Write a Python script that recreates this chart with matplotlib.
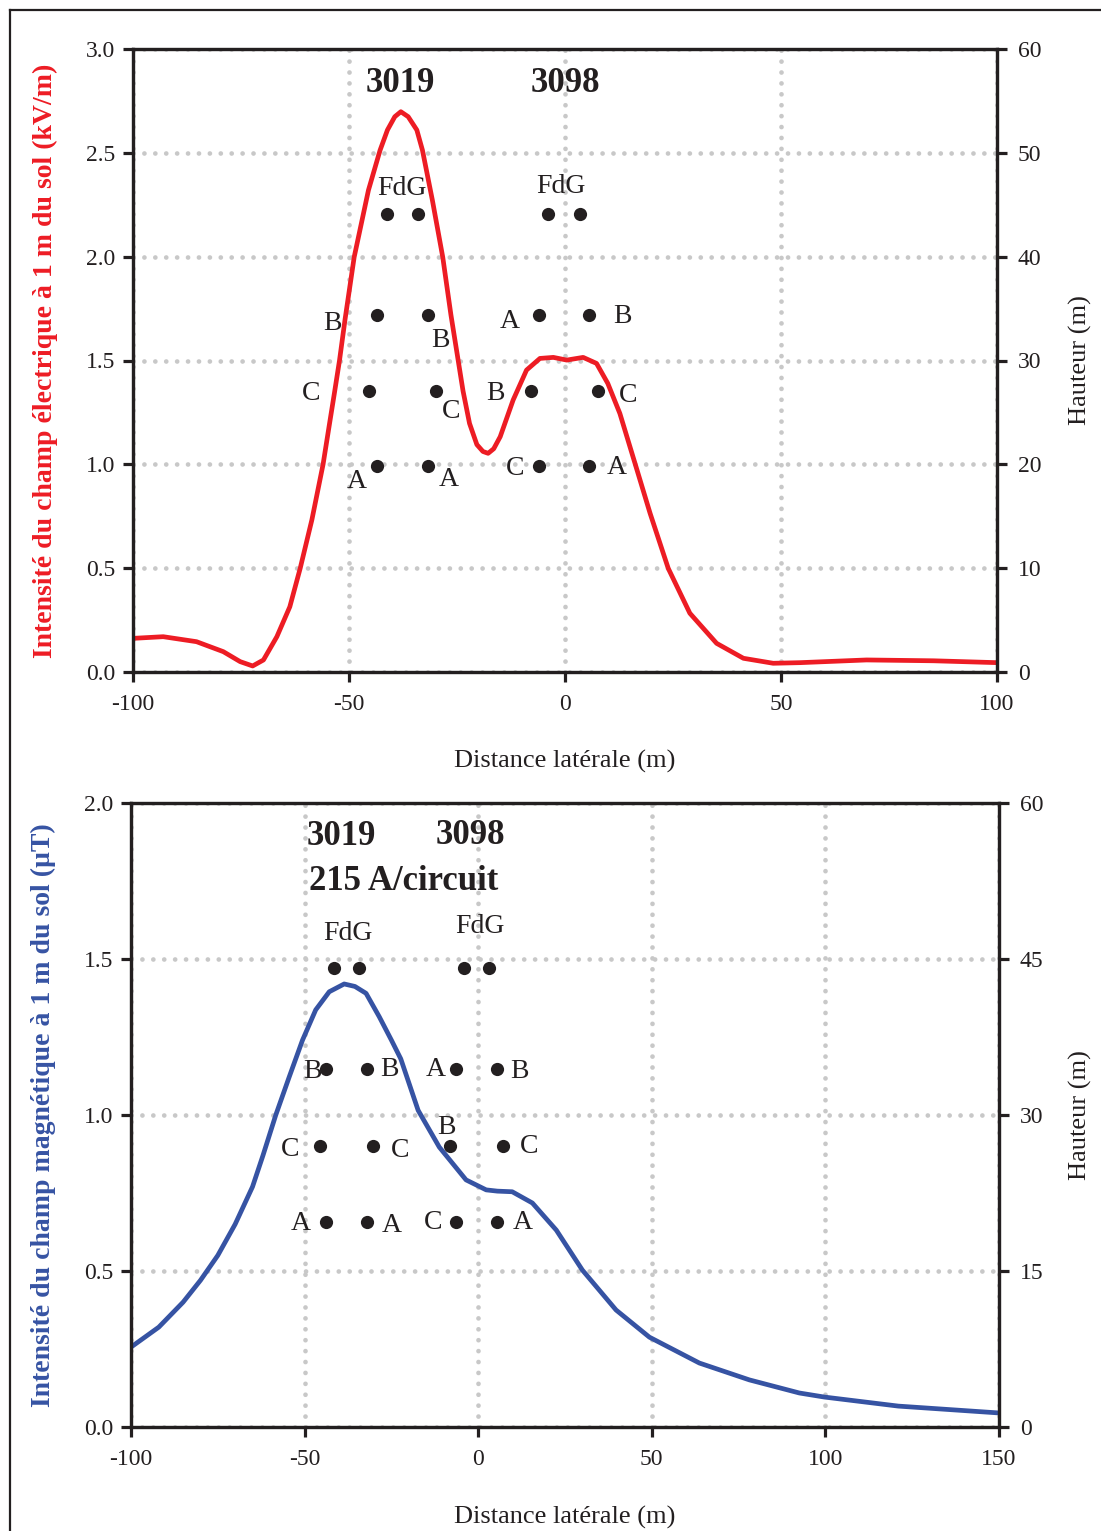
import matplotlib
matplotlib.use("Agg")
import matplotlib.pyplot as plt
from matplotlib.lines import Line2D
from matplotlib.ticker import FormatStrFormatter

plt.rcParams['font.family'] = ['Liberation Serif', 'DejaVu Serif']
plt.rcParams['axes.unicode_minus'] = False

# ---------------- data: electric field ----------------
e_x = [-100, -93, -85.3, -79.1, -75.2, -72.3, -69.8, -66.7, -63.7, -61.3, -58.6, -56.0,
       -54.4, -53.4, -52.2, -50.9, -48.8, -45.5, -42.8, -41.1, -39.4, -38.0, -36.3, -34.3,
       -33.0, -30.7, -28.3, -26.4, -24.7, -23.6, -22.1, -20.4, -19.0, -17.8, -16.5, -15.0,
       -12.0, -8.9, -5.8, -2.7, 0.4, 4.2, 7.3, 9.9, 12.7, 16.2, 19.7, 23.9, 28.9, 35.1,
       41.3, 48.2, 54.4, 69.8, 85.3, 100]
e_y = [0.162, 0.170, 0.146, 0.098, 0.050, 0.029, 0.058, 0.170, 0.314, 0.499, 0.732, 1.0,
       1.21, 1.34, 1.50, 1.70, 1.998, 2.32, 2.513, 2.61, 2.674, 2.698, 2.674, 2.61,
       2.513, 2.272, 1.998, 1.719, 1.497, 1.353, 1.197, 1.095, 1.062, 1.053, 1.075, 1.133,
       1.310, 1.454, 1.510, 1.515, 1.502, 1.515, 1.486, 1.39, 1.245, 1.005, 0.764, 0.499,
       0.283, 0.138, 0.066, 0.042, 0.045, 0.058, 0.054, 0.045]

# conductor positions (height, m) - electric chart
e_fdg_x = [-41.3, -34.1, -3.9, 3.5]
e_fdg_h = 44.1
e_rowB_x = [-43.6, -31.8, -6.0, 5.6]
e_rowB_h = 34.4
e_rowC_x = [-45.4, -29.9, -7.9, 7.6]
e_rowC_h = 27.1
e_rowA_x = [-43.6, -31.8, -6.0, 5.6]
e_rowA_h = 19.8

e_lbl_text = ["FdG", "FdG", "B", "B", "A", "B", "C", "C", "B", "C", "A", "A", "C", "A"]
e_lbl_x = [-37.7, -0.9, -53.9, -28.9, -12.7, 13.4, -58.8, -26.4, -16.0, 14.6, -48.1, -26.9, -11.6, 12.0]
e_lbl_h = [46.6, 46.8, 33.6, 31.9, 33.8, 34.2, 26.8, 25.1, 26.8, 26.6, 18.3, 18.5, 19.6, 19.7]
e_title_text = ["3019", "3098"]
e_title_x = [-38.2, 0.2]
e_title_h = [56.7, 56.7]

# ---------------- data: magnetic field ----------------
b_x = [-100, -92, -85, -80, -75, -70, -65, -62, -58.3, -54.4, -50.6,
       -46.8, -42.9, -38.6, -35.5, -32.3, -28.5, -25.0, -22.3, -17.3, -11.2, -3.5, 2.3,
       5.5, 9.8, 15.6, 22.5, 30.0, 39.7, 49.3, 63.7, 78.1, 92.5, 99.7, 121, 150]
b_y = [0.256, 0.32, 0.40, 0.47, 0.55, 0.65, 0.77, 0.87, 1.0, 1.123, 1.240,
       1.337, 1.395, 1.420, 1.412, 1.390, 1.315, 1.24, 1.18, 1.015, 0.897, 0.792, 0.760,
       0.756, 0.754, 0.718, 0.631, 0.503, 0.375, 0.288, 0.205, 0.151, 0.109, 0.096, 0.067,
       0.045]

b_fdg_x = [-41.5, -34.3, -4.0, 3.2]
b_fdg_h = 44.1
b_rowB_x = [-43.8, -32.0, -6.3, 5.5]
b_rowB_h = 34.4
b_rowC_x = [-45.5, -30.2, -8.1, 7.2]
b_rowC_h = 27.0
b_rowA_x = [-43.8, -32.0, -6.3, 5.5]
b_rowA_h = 19.7

b_lbl_text = ["FdG", "FdG", "B", "B", "A", "B", "B", "C", "C", "C", "A", "A", "C", "A"]
b_lbl_x = [-37.4, 0.6, -47.8, -25.6, -12.1, 11.8, -9.2, -54.1, -22.5, 14.7, -51.0, -24.8, -13.0, 12.7]
b_lbl_h = [47.5, 48.1, 34.2, 34.4, 34.4, 34.2, 28.8, 26.7, 26.6, 27.0, 19.6, 19.4, 19.7, 19.7]
b_title_text = ["3019", "3098", "215 A/circuit"]
b_title_x = [-49.4, -12.4, -48.8]
b_title_h = [56.8, 56.9, 52.5]

# ---------------- styles ----------------
RED = '#ED1C24'
BLUE = '#3653A3'
INK = '#231F20'
GRID = '#C8C8C8'
TICK_FS = 17
LAB_FS = 19

fig = plt.figure(figsize=(11.01, 15.31), dpi=100)

# frame
fig.add_artist(Line2D([10/1101, 10/1101], [-0.01, 1 - 10/1531], transform=fig.transFigure,
                      color=INK, lw=1.6))
fig.add_artist(Line2D([10/1101, 1.01], [1 - 10/1531, 1 - 10/1531], transform=fig.transFigure,
                      color=INK, lw=1.6))


def style_axes(ax, axr, xlim, xticks, ylim, yticks, rticks):
    ax.set_xlim(*xlim)
    ax.set_ylim(*ylim)
    ax.set_xticks(xticks)
    ax.set_yticks(yticks)
    ax.yaxis.set_major_formatter(FormatStrFormatter('%.1f'))
    axr.set_ylim(0, 60)
    axr.set_yticks(rticks)
    for a in (ax, axr):
        for s in a.spines.values():
            s.set_linewidth(2.3)
            s.set_color(INK)
    ax.tick_params(axis='both', direction='out', length=7, width=2.3, colors=INK,
                   labelsize=TICK_FS, labelcolor=INK)
    ax.tick_params(axis='x', pad=9)
    ax.tick_params(axis='y', pad=6)
    axr.tick_params(axis='y', direction='out', length=7, width=2.3, colors=INK,
                    labelsize=TICK_FS, labelcolor=INK, pad=8)
    ax.set_axisbelow(True)
    ax.grid(True, color=GRID, lw=3.4, linestyle=(0, (0.01, 2.3)), dash_capstyle='round')


def draw_dots(axr, rows):
    for xs, h in rows:
        axr.plot(xs, [h] * len(xs), 'o', color=INK, ms=9.5, mew=0, zorder=5)


# ---- top: electric field ----
ax1 = fig.add_axes([133/1101, 1 - 672/1531, 864/1101, 623/1531])
ax1r = ax1.twinx()
style_axes(ax1, ax1r, (-100, 100), [-100, -50, 0, 50, 100],
           (0, 3.0), [0, 0.5, 1.0, 1.5, 2.0, 2.5, 3.0], [0, 10, 20, 30, 40, 50, 60])
ax1.plot(e_x, e_y, color=RED, lw=3.4, solid_joinstyle='round', solid_capstyle='butt')
draw_dots(ax1r, [(e_fdg_x, e_fdg_h), (e_rowB_x, e_rowB_h), (e_rowC_x, e_rowC_h), (e_rowA_x, e_rowA_h)])
for t, x, h in zip(e_lbl_text, e_lbl_x, e_lbl_h):
    ax1r.text(x, h, t, ha='center', va='center', fontsize=20, color=INK)
for t, x, h in zip(e_title_text, e_title_x, e_title_h):
    ax1r.text(x, h, t, ha='center', va='center', fontsize=25, fontweight='bold', color=INK)
ax1.set_xlabel('Distance latérale (m)', fontsize=LAB_FS, color=INK, va='center')
ax1.xaxis.set_label_coords(0.5, -(761 - 672) / 623)
ax1.set_ylabel('Intensité du champ électrique à 1 m du sol (kV/m)', fontsize=20,
               fontweight='bold', color=RED, va='center')
ax1.yaxis.set_label_coords((45 - 133) / 864, 0.5)
ax1r.set_ylabel('Hauteur (m)', fontsize=LAB_FS, color=INK, va='center', rotation=90)
ax1r.yaxis.set_label_coords((1080 - 133) / 864, 0.5)

# ---- bottom: magnetic field ----
ax2 = fig.add_axes([131/1101, 1 - 1427/1531, 868/1101, 624/1531])
ax2r = ax2.twinx()
style_axes(ax2, ax2r, (-100, 150), [-100, -50, 0, 50, 100, 150],
           (0, 2.0), [0, 0.5, 1.0, 1.5, 2.0], [0, 15, 30, 45, 60])
ax2.plot(b_x, b_y, color=BLUE, lw=3.4, solid_joinstyle='round', solid_capstyle='butt')
draw_dots(ax2r, [(b_fdg_x, b_fdg_h), (b_rowB_x, b_rowB_h), (b_rowC_x, b_rowC_h), (b_rowA_x, b_rowA_h)])
for t, x, h in zip(b_lbl_text, b_lbl_x, b_lbl_h):
    ax2r.text(x, h, t, ha='center', va='center', fontsize=20, color=INK)
for t, x, h in zip(b_title_text, b_title_x, b_title_h):
    ax2r.text(x, h, t, ha='left', va='center', fontsize=25, fontweight='bold', color=INK)
ax2.set_xlabel('Distance latérale (m)', fontsize=LAB_FS, color=INK, va='center')
ax2.xaxis.set_label_coords(0.5, -(1517 - 1427) / 624)
ax2.set_ylabel('Intensité du champ magnétique à 1 m du sol (µT)', fontsize=20,
               fontweight='bold', color=BLUE, va='center')
ax2.yaxis.set_label_coords((43 - 131) / 868, 0.5)
ax2r.set_ylabel('Hauteur (m)', fontsize=LAB_FS, color=INK, va='center', rotation=90)
ax2r.yaxis.set_label_coords((1080 - 131) / 868, 0.5)

fig.savefig('out.png', dpi=100)
